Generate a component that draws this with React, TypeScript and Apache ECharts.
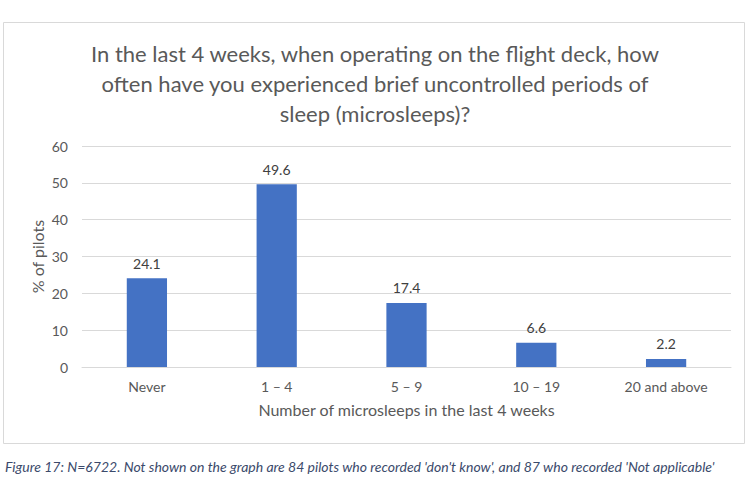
import React, { useEffect, useRef } from "react";
import * as echarts from "echarts";

const categories = ["Never", "1 – 4", "5 – 9", "10 – 19", "20 and above"];
const values = [24.1, 49.6, 17.4, 6.6, 2.2];
const titleText =
  "In the last 4 weeks, when operating on the flight deck, how\noften have you experienced brief uncontrolled periods of\nsleep (microsleeps)?";
const xName = "Number of microsleeps in the last 4 weeks";
const yName = "% of pilots";
const caption =
  "Figure 17: N=6722. Not shown on the graph are 84 pilots who recorded 'don't know', and 87 who recorded 'Not applicable'";

const FONT = "Lato, 'Open Sans', sans-serif";

export default function App() {
  const ref = useRef<HTMLDivElement>(null);
  useEffect(() => {
    if (!ref.current) return;
    const chart = echarts.init(ref.current, null, { renderer: "svg" });
    chart.setOption({
      animation: false,
      backgroundColor: "#ffffff",
      title: {
        text: titleText,
        left: "center",
        top: 33,
        textStyle: {
          fontFamily: FONT,
          fontSize: 22,
          fontWeight: "normal",
          color: "#595959",
          lineHeight: 30,
        },
      },
      grid: { left: 82, right: 19, top: 146, bottom: 133 },
      xAxis: {
        type: "category",
        data: categories,
        name: xName,
        nameLocation: "middle",
        nameGap: 34,
        nameMoveOverlap: false,
        nameTextStyle: { fontFamily: FONT, fontSize: 16, color: "#595959" },
        axisLine: { show: true, lineStyle: { color: "#d9d9d9", width: 1 } },
        axisTick: { show: false },
        axisLabel: { fontFamily: FONT, fontSize: 14, color: "#595959", margin: 12 },
      },
      yAxis: {
        type: "value",
        min: 0,
        max: 60,
        interval: 10,
        name: yName,
        nameLocation: "middle",
        nameRotate: 90,
        nameGap: 37,
        nameMoveOverlap: false,
        nameTextStyle: { fontFamily: FONT, fontSize: 16, color: "#595959" },
        axisLine: { show: false },
        axisTick: { show: false },
        axisLabel: { fontFamily: FONT, fontSize: 14, color: "#595959", margin: 14 },
        splitLine: { lineStyle: { color: "#d9d9d9", width: 1 } },
      },
      series: [
        {
          type: "bar",
          data: values,
          barWidth: "31%",
          itemStyle: { color: "#4472C4" },
          label: {
            show: true,
            position: "top",
            distance: 8,
            fontFamily: FONT,
            fontSize: 14,
            color: "#404040",
            formatter: (p: any) => p.value.toFixed(1),
          },
        },
      ],
      graphic: [
        {
          type: "rect",
          shape: { x: 3.5, y: 22.5, width: 741, height: 421 },
          style: { fill: "none", stroke: "#d9d9d9", lineWidth: 1 },
          silent: true,
          z: -1,
        },
        {
          type: "text",
          left: 5,
          top: 459,
          style: {
            text: caption,
            font: "italic 14px Lato, 'Open Sans', sans-serif",
            fill: "#3B4A6B",
          },
        },
      ],
    });
    return () => chart.dispose();
  }, []);
  return (
    <div
      ref={ref}
      style={{ position: "fixed", left: 0, top: 0, width: 750, height: 500 }}
    />
  );
}
